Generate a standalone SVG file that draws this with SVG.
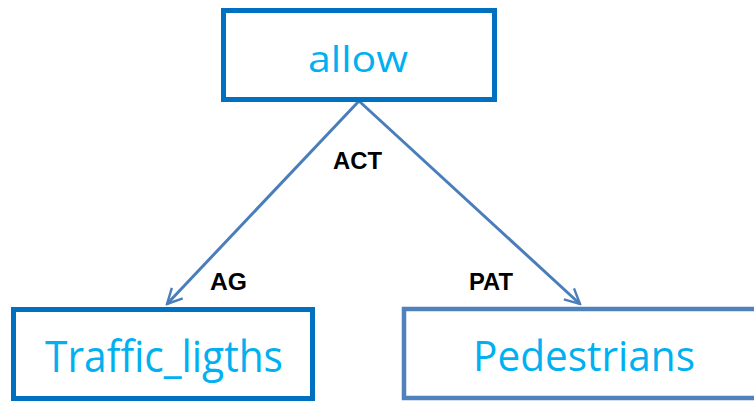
<svg xmlns="http://www.w3.org/2000/svg" width="754" height="401" viewBox="0 0 754 401">
  <style>
    .box { fill: #ffffff; stroke: #0070C0; stroke-width: 5; }
    .box2 { fill: #ffffff; stroke: #4F81BD; stroke-width: 4.5; }
    .name { font-family: "Open Sans", "Liberation Sans", Arial, sans-serif; fill: #00B0F0; text-anchor: middle; }
    .rel { font-family: "Liberation Sans", Arial, sans-serif; font-weight: bold; font-size: 24px; fill: #000000; }
    .edge { stroke: #4A7EBB; stroke-width: 3; fill: none; }
  </style>
  <defs>
    <marker id="arrow" viewBox="0 0 12 12" refX="11" refY="6" markerWidth="6" markerHeight="6" orient="auto" markerUnits="strokeWidth">
      <path d="M1,1 L11,6 L1,11" fill="none" stroke="#4A7EBB" stroke-width="1.6" stroke-linejoin="miter"/>
    </marker>
  </defs>

  <g id="connectors">
    <line class="edge" x1="359" y1="101" x2="167" y2="304" marker-end="url(#arrow)"/>
    <line class="edge" x1="359" y1="101" x2="580" y2="304" marker-end="url(#arrow)"/>
    <text class="rel" x="333" y="169" textLength="49" lengthAdjust="spacingAndGlyphs">ACT</text>
    <text class="rel" x="210" y="290" textLength="37" lengthAdjust="spacingAndGlyphs">AG</text>
    <text class="rel" x="469" y="290" textLength="44" lengthAdjust="spacingAndGlyphs">PAT</text>
  </g>

  <g id="allow">
    <rect class="box" x="223.5" y="10.5" width="271" height="89"/>
    <text class="name" x="358" y="72" font-size="37" textLength="100" lengthAdjust="spacingAndGlyphs">allow</text>
  </g>

  <g id="traffic_ligths">
    <rect class="box" x="13.5" y="309.5" width="299" height="89"/>
    <text class="name" x="164" y="372" font-size="43" textLength="238" lengthAdjust="spacingAndGlyphs">Traffic_ligths</text>
  </g>

  <g id="pedestrians">
    <rect class="box2" x="404" y="309" width="360" height="89"/>
    <text class="name" x="584" y="371" font-size="42" textLength="222" lengthAdjust="spacingAndGlyphs">Pedestrians</text>
  </g>
</svg>
